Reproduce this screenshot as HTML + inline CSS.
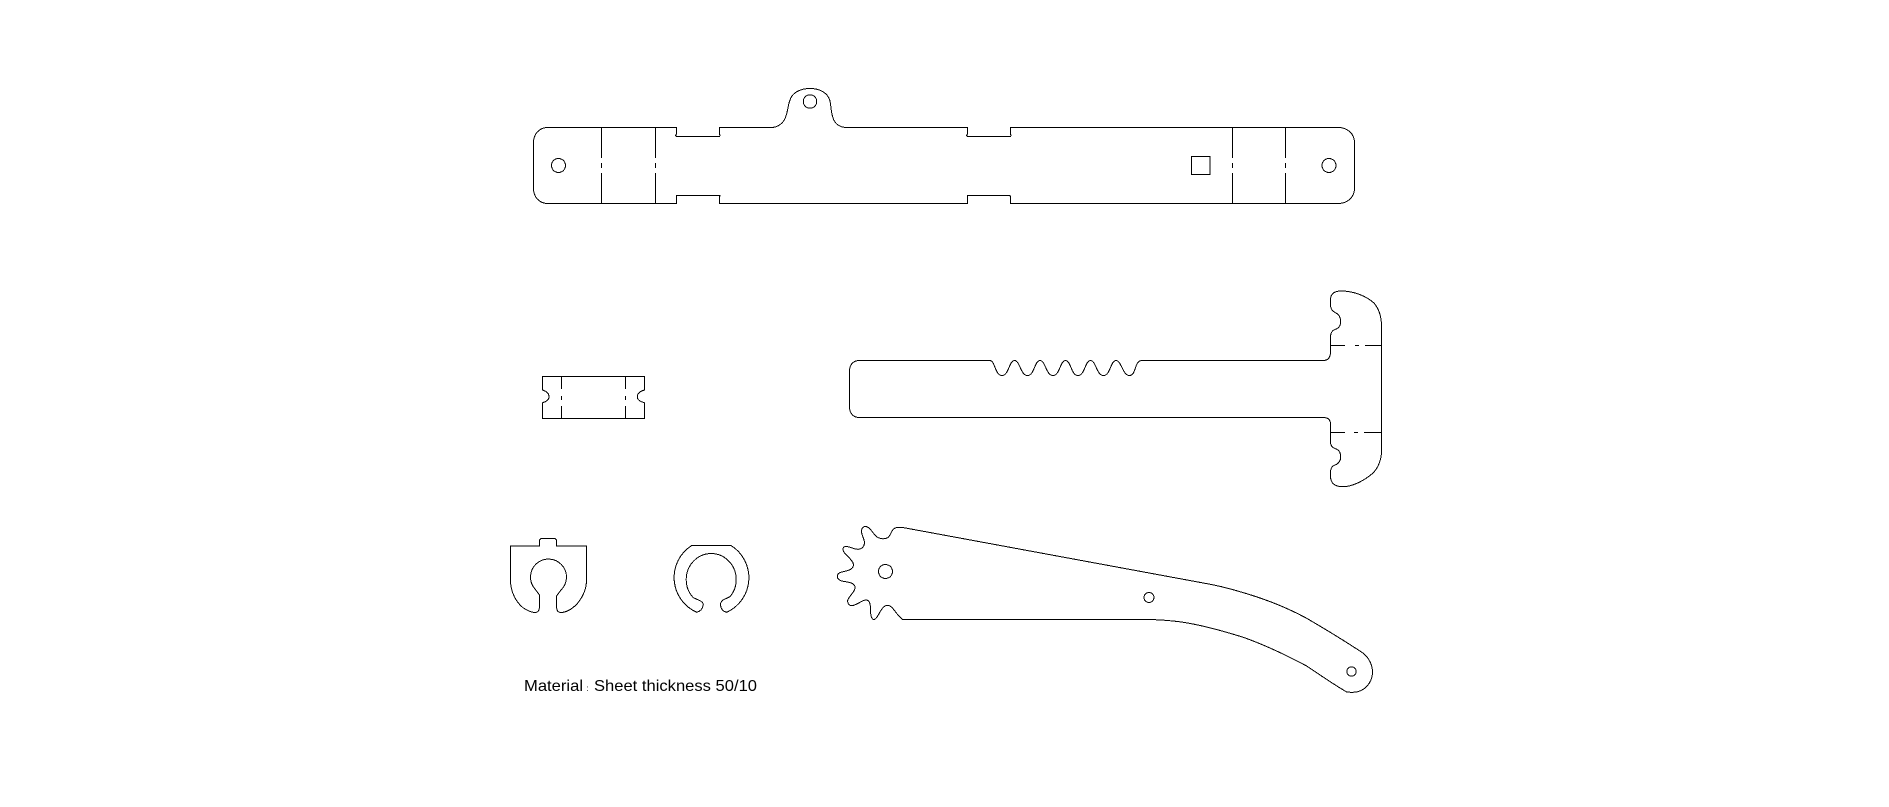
<!DOCTYPE html>
<html>
<head>
<meta charset="utf-8">
<style>
html,body{margin:0;padding:0;background:#fff;width:1889px;height:807px;overflow:hidden}
svg{display:block}
path,line,circle,rect,polygon{fill:none;stroke:#000;stroke-width:1;stroke-linejoin:round}
text{font-family:"Liberation Sans",sans-serif;fill:#000}
</style>
</head>
<body>
<svg width="1889" height="807" viewBox="0 0 1889 807" xmlns="http://www.w3.org/2000/svg" shape-rendering="crispEdges">
<rect x="0" y="0" width="1889" height="807" style="fill:#fff;stroke:none"/>

<!-- Top bar -->
<path d="M548 127.5H676.5V134L675.5 135.5L676.5 136.5H719.5L720 135.5L719.5 134V127.5H771C778 127.5 784 123 786 116C788 110 788 105 790 100C792 93 800 88.5 810 88.5C820 88.5 828 93 830 101C831 106 831 112 833 118C835 124 840 127.5 847 127.5H967.5V134L966.5 135.5L967.5 136.5H1010.5L1011 135.5L1010.5 134V127.5H1338C1348 127.5 1354.5 134 1354.5 143V188C1354.5 197 1348 203.5 1338 203.5H1010.5V197L1010 195.5L1009.5 195.5H968L967.5 195.5L967.5 197V203.5H719.5V197L720 195.5L719 195.5H677L676.5 195.5V203.5H548C539 203.5 533.5 197 533.5 188V143C533.5 134 539 127.5 548 127.5Z"/>
<path d="M601.5 127.5V158M601.5 163V168M601.5 173V203.5M655.5 127.5V158M655.5 163V168M655.5 173V203.5M1232.5 127.5V158M1232.5 163V168M1232.5 173V203.5M1285.5 127.5V158M1285.5 163V168M1285.5 173V203.5"/>
<circle cx="558.5" cy="165.5" r="7"/>
<circle cx="810" cy="101.5" r="6.7"/>
<circle cx="1329" cy="165.5" r="7"/>
<rect x="1191.5" y="156.5" width="18.5" height="18"/>

<!-- Small plate -->
<path d="M542.5 376.5H644.5V390Q637.3 392 637.3 396.7Q637.3 401 644.5 402.7V418.5H542.5V402.7Q549 401 549 396.7Q549 392 542.5 390Z"/>
<path d="M561.5 376.5V389M561.5 396V400M561.5 406V418.5M625.5 376.5V389M625.5 396V400M625.5 406V418.5"/>

<!-- T handle -->
<path d="M859.5 360.5H990C995 360.5 995 375.5 1002 375.5C1009 375.5 1009 360.5 1014.5 360.5C1020 360.5 1020.5 375.5 1027.5 375.5C1034.5 375.5 1034.5 360.5 1040 360.5C1045.5 360.5 1046 375.5 1053 375.5C1060 375.5 1060 360.5 1065.5 360.5C1071 360.5 1071 375.5 1078 375.5C1085 375.5 1085 360.5 1090.5 360.5C1096 360.5 1096.5 375.5 1103.5 375.5C1110.5 375.5 1110.5 360.5 1116 360.5C1121.5 360.5 1122.5 375.5 1129.5 375.5C1136.5 375.5 1134 360.5 1142 360.5H1323Q1330.5 360.5 1330.5 351.7V336Q1331 331 1335 329.5Q1340.7 327.5 1340.7 321.7Q1340.7 315 1335 312.5Q1330.5 310 1330.5 305V300Q1330.5 291 1341 291C1354 291 1366 296 1374 303C1379 309 1381.5 317 1381.5 326V451C1381.5 460 1378 468 1373 473C1364 481 1352 486.7 1343 486.7Q1330.5 486.7 1330.5 476V471Q1331 466.5 1335 465Q1340.7 463 1340.7 456.7Q1340.7 450.5 1335 448.5Q1330.5 447 1330.5 442V424Q1330.5 417.5 1323 417.5H859.5C853 417.5 849.5 413 849.5 407V371C849.5 365 853 360.5 859.5 360.5Z"/>
<path d="M1330.5 345.5H1345M1355 345.5H1359M1365 345.5H1381.5M1330.5 432.5H1345M1354 432.5H1358M1364 432.5H1381.5"/>

<!-- Clip with tab -->
<path d="M510.5 546V580C510.5 592 516 602 523 607.7C528 611 532 612.5 535 612.5Q539.5 612.5 539.5 606V595L535 589A18 18 0 1 1 561 590L556.5 596V606Q556.5 612.5 561 612.5C565 612.5 571 610 577 604C582 598 586.5 590 586.5 580V546H556.5V540L555 538.5H541L539.5 540V546Z"/>

<!-- Ring -->
<path d="M691.7 545.5H731A38 38 0 0 1 726.7 612.3Q721 611 720.5 605Q720.5 601 724 599.5L730 596.7A25 26 0 1 0 693.3 597.7L698.5 600Q703.5 602 703.3 605Q702 611 696.7 612.3A38 38 0 0 1 691.7 545.5Z"/>

<!-- Arm with gear -->
<path d="M901.7 527.3L1201.7 582.7C1215 585 1228 588 1240 591.7C1262 598 1286 607 1306.7 618.3C1325 629 1345 641 1363.3 653.3C1369 658 1372.5 665 1372.5 672C1372.5 683 1364 692.3 1353 692.3C1350 692.3 1348 692.3 1346.7 692C1333 684 1320 675 1306.7 666C1286 655 1265 645 1243.3 637.3C1220 630 1195 623 1173 621C1163 620 1155 619.5 1146 619.5H902.7C896 615 893 605.3 887.5 605.3C883 605.3 880 612 878 615.5C876.5 618 875.5 619.5 874 619.5C871 619.5 870.5 614 870.5 609C870.5 604 869.5 600 866 600C862 600 856 605.7 851.7 605.7C848.5 605.7 847 602 848 599.5C850 595 855 592 855 587.5C855 582 846 582 841.7 581C838.5 580 837 578 837.5 575.5C838 572 843 572 848 570.5C851 569.5 853.5 567.5 853.5 565C853.5 561 848 557 845 553.5C842 550 842.5 546.5 846 546.5C850 546.5 854 549.5 858.3 549.3C862 549 864.5 546 864.5 543C864.5 539 861.5 535 861.5 531.5C861.5 528 863.5 526.5 865.5 526.5C870 526.5 873 534 877 537C880 539 885 539.5 888 537.5C892 534 891 527.3 899 527.3Z"/>
<circle cx="885.5" cy="571.5" r="7"/>
<circle cx="1149" cy="597.5" r="5"/>
<circle cx="1351.5" cy="671.5" r="4.7"/>

<!-- Label -->
<text x="524" y="691" font-size="16" textLength="59" lengthAdjust="spacingAndGlyphs">Material</text>
<text x="586.5" y="691" font-size="8">:</text>
<text x="594" y="691" font-size="16" textLength="163" lengthAdjust="spacingAndGlyphs">Sheet thickness 50/10</text>
</svg>
</body>
</html>
